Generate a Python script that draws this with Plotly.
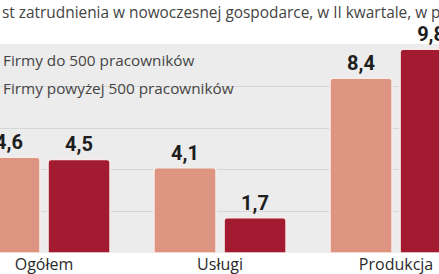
import plotly.graph_objects as go

categories = ["Ogółem", "Usługi", "Produkcja"]
small_firms = [4.6, 4.1, 8.4]
large_firms = [4.5, 1.7, 9.8]
series_names = ["Firmy do 500 pracowników", "Firmy powyżej 500 pracowników"]
title_text = "st zatrudnienia w nowoczesnej gospodarce, w II kwartale, w proc."

def fmt(v):
    return f"{v:.1f}".replace(".", ",")

LIGHT = "#dd9480"
DARK = "#a31b31"
label_font = dict(family="Liberation Sans Narrow, Roboto, sans-serif", size=20,
                  color="#1e1e1e", weight="bold")

fig = go.Figure()
fig.add_trace(go.Bar(
    x=list(range(len(categories))), y=small_firms, name=series_names[0],
    text=[fmt(v) for v in small_firms], textposition="outside",
    textfont=label_font, cliponaxis=False,
    width=0.352, offset=-0.375,
    marker=dict(color=LIGHT, line=dict(color="#f6ece8", width=1.5), cornerradius=3),
))
fig.add_trace(go.Bar(
    x=list(range(len(categories))), y=large_firms, name=series_names[1],
    text=[fmt(v) for v in large_firms], textposition="outside",
    textfont=label_font, cliponaxis=False,
    width=0.352, offset=0.023,
    marker=dict(color=DARK, line=dict(color="#f6ece8", width=1.5), cornerradius=3),
))

fig.update_layout(
    width=439, height=274,
    margin=dict(l=0, r=0, t=44, b=21),
    paper_bgcolor="white", plot_bgcolor="#ececec",
    barmode="overlay", showlegend=False,
    xaxis=dict(range=[-0.25, 2.244], tickmode="array",
               tickvals=list(range(len(categories))), ticktext=categories,
               showgrid=False, zeroline=False, showline=False, ticks="",
               tickfont=dict(family="Open Sans, sans-serif", size=16, color="#2a2a2a")),
    yaxis=dict(range=[0, 10.05], tickvals=[2, 4, 6, 8], showticklabels=False,
               gridcolor="#d6d6d6", gridwidth=1, zeroline=False, showline=False),
    uniformtext=dict(mode="show", minsize=8),
)

fig.add_annotation(x=0, y=1, xref="paper", yref="paper", xanchor="left", yanchor="top",
                   yshift=44, text=title_text, showarrow=False,
                   font=dict(family="Open Sans, sans-serif", size=15.4, color="#444444"))
fig.add_annotation(x=0, y=9.3, xref="paper", yref="y", xanchor="left", yanchor="middle",
                   text=series_names[0], showarrow=False, xshift=1,
                   font=dict(family="Open Sans, sans-serif", size=15.3, color="#444444"))
fig.add_annotation(x=0, y=7.95, xref="paper", yref="y", xanchor="left", yanchor="middle",
                   text=series_names[1], showarrow=False, xshift=1,
                   font=dict(family="Open Sans, sans-serif", size=15.3, color="#444444"))

fig.write_html("out.html")
